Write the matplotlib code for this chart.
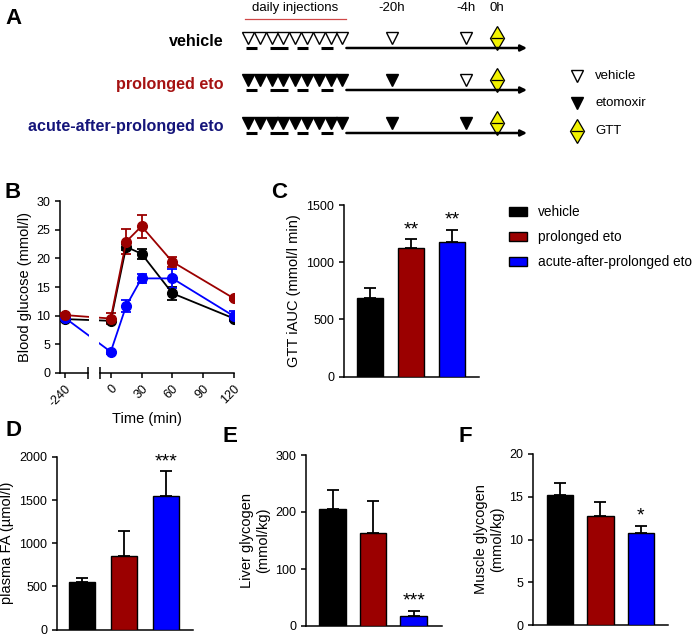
import matplotlib
matplotlib.use('Agg')
import matplotlib.pyplot as plt
import numpy as np
from matplotlib.patches import Patch

plt.rcParams['font.family'] = ['Liberation Sans', 'DejaVu Sans']
plt.rcParams['font.size'] = 9
plt.rcParams['axes.linewidth'] = 1.1
plt.rcParams['xtick.major.width'] = 1.1
plt.rcParams['ytick.major.width'] = 1.1
plt.rcParams['xtick.major.size'] = 3.5
plt.rcParams['ytick.major.size'] = 3.5

# ---- data ----
groups = ['vehicle', 'prolonged eto', 'acute-after-prolonged eto']
group_text_colors = ['black', '#a51212', '#15157a']
colors = ['black', '#9b0000', '#0000ff']

# injection schedule (panel A)
n_daily = 9
daily_inj = ['veh', 'eto', 'eto']
inj_20h = ['veh', 'eto', 'eto']
inj_4h = ['veh', 'veh', 'eto']
dash_slots = [0.3, 2.6, 4.6, 6.7]
dash_widths = [1.0, 1.5, 0.9, 1.0]

# panel B: glucose tolerance test
time_min = [-240, 0, 15, 30, 60, 120]
glu_veh = [9.4, 9.1, 22.0, 20.8, 13.9, 9.5]
glu_veh_err = [0.3, 0.3, 0.5, 0.9, 1.1, 0.5]
glu_pro = [10.1, 9.5, 22.9, 25.6, 19.4, 13.0]
glu_pro_err = [0.3, 0.9, 2.2, 2.0, 0.9, 0.3]
glu_acu = [9.6, 3.7, 11.7, 16.5, 16.5, 9.9]
glu_acu_err = [0.3, 0.3, 1.0, 0.8, 1.6, 0.9]
time_ticks = [-240, 0, 30, 60, 90, 120]

# panel C-F bars (mean, sem)
iauc = [690, 1120, 1175]
iauc_err = [82, 83, 110]
iauc_stars = ['', '**', '**']
fa = [545, 855, 1545]
fa_err = [48, 287, 290]
fa_stars = ['', '', '***']
liver = [206, 164, 18]
liver_err = [33, 55, 9]
liver_stars = ['', '', '***']
muscle = [15.2, 12.7, 10.8]
muscle_err = [1.45, 1.65, 0.8]
muscle_stars = ['', '', '*']

W, H = 697, 637
fig = plt.figure(figsize=(W / 100, H / 100), dpi=100)


def axes_px(left, top, right, bottom):
    return fig.add_axes([left / W, 1 - bottom / H, (right - left) / W, (bottom - top) / H])


def panel_letter(x, y, s):
    fig.text(x / W, 1 - y / H, s, fontsize=16, fontweight='bold', ha='center', va='center')


# ---- panel A: schematic ----
ax_a = fig.add_axes([0, 1 - 150 / H, 1, 150 / H])
ax_a.set_xlim(0, W)
ax_a.set_ylim(150, 0)
ax_a.axis('off')
slot_x0, slot_dx = 248, 11.8
pos_20h, pos_4h, pos_0h = 392, 466, 497
row_y = [38, 80, 123]
line_dy = 10


def tri(x, y, kind, ms=8.5):
    face = 'white' if kind == 'veh' else 'black'
    ax_a.plot(np.atleast_1d(x), [y] * len(np.atleast_1d(x)), 'v', ms=ms, mfc=face, mec='black',
              mew=1, ls='none', clip_on=False)


def gtt(x, y):
    ax_a.plot([x], [y], 'd', ms=12, mfc='#f2f200', mec='black', mew=0.9, clip_on=False)
    ax_a.plot([x], [y], '_', ms=8, mec='black', mew=0.9, clip_on=False)


ax_a.text(slot_x0 + slot_dx * 4, 8, 'daily injections', ha='center', va='center', fontsize=9.5)
ax_a.plot([slot_x0 - 3, slot_x0 + slot_dx * 8 + 4], [19, 19], color='#d04848', lw=0.9)
for s, xp in [('-20h', pos_20h), ('-4h', pos_4h), ('0h', pos_0h)]:
    ax_a.text(xp, 8, s, ha='center', va='center', fontsize=9.5)

for i, g in enumerate(groups):
    y = row_y[i]
    ax_a.text(224, y + 4, g, ha='right', va='center', fontsize=11.6, fontweight='bold',
              color=group_text_colors[i])
    xs = slot_x0 + slot_dx * np.arange(n_daily)
    tri(xs, y, daily_inj[i])
    for c, w in zip(dash_slots, dash_widths):
        ax_a.plot([slot_x0 + slot_dx * (c - w / 2), slot_x0 + slot_dx * (c + w / 2)],
                  [y + line_dy] * 2, color='black', lw=2.2, solid_capstyle='butt')
    ax_a.annotate('', xy=(527, y + line_dy), xytext=(slot_x0 + slot_dx * 8 + 4, y + line_dy),
                  arrowprops=dict(arrowstyle='-|>', color='black', lw=1.8, mutation_scale=9,
                                  shrinkA=0, shrinkB=0))
    tri(pos_20h, y, inj_20h[i])
    tri(pos_4h, y, inj_4h[i])
    gtt(pos_0h, y)

# legend of the schematic
tri(577, 76, 'veh')
tri(577, 103, 'eto')
gtt(577, 131)
for s, yy in [('vehicle', 76), ('etomoxir', 103), ('GTT', 131)]:
    ax_a.text(595, yy, s, ha='left', va='center', fontsize=9.5)

panel_letter(14, 18, 'A')

# ---- panel B: GTT curves with broken x axis ----
ax_b = axes_px(60, 201, 234, 373)
left_lim, break_l, break_r = -49.4, -22.3, -10.6
pre_pos = -44.5  # where the -240 min baseline sits on the broken axis


def tpos(t):
    return t if t >= 0 else pre_pos


xb = [tpos(t) for t in time_min]
for vals, errs, c in [(glu_veh, glu_veh_err, colors[0]), (glu_acu, glu_acu_err, colors[2]),
                      (glu_pro, glu_pro_err, colors[1])]:
    ax_b.errorbar(xb, vals, yerr=errs, fmt='-o', color=c, ms=7, lw=1.3, elinewidth=1.3,
                  capsize=3.5, capthick=1.3, zorder=3)
ax_b.axvspan(break_l + 0.8, break_r - 0.8, color='white', zorder=4, lw=0)
ax_b.set_xlim(left_lim, 120)
ax_b.set_ylim(0, 30)
ax_b.set_yticks(range(0, 31, 5))
ax_b.set_xticks([tpos(t) for t in time_ticks])
ax_b.set_xticklabels([str(t) for t in time_ticks], rotation=45, ha='right', va='top',
                     rotation_mode='anchor')
ax_b.set_xticks([break_l, break_r], minor=True)
ax_b.tick_params(axis='x', which='minor', direction='inout', length=8, width=1.1)
ax_b.spines['top'].set_visible(False)
ax_b.spines['right'].set_visible(False)
ax_b.spines['bottom'].set_bounds(break_r, 120)
ax_b.plot([left_lim, break_l], [0, 0], color='black', lw=1.1, clip_on=False,
          transform=ax_b.get_xaxis_transform(), zorder=5)
ax_b.set_ylabel('Blood glucose (mmol/l)', fontsize=10.5, labelpad=3)
ax_b.set_xlabel('Time (min)', fontsize=10.5, labelpad=2)
ax_b.tick_params(labelsize=9)
panel_letter(13, 192, 'B')


# ---- bar panels ----
def bar_panel(box, vals, errs, stars, ymax, ystep, ylabel, xl, width):
    ax = axes_px(*box)
    x = np.arange(len(vals))
    ax.errorbar(x, vals, yerr=[np.zeros(len(errs)), errs], fmt='none', ecolor='black',
                elinewidth=1.3, capsize=4.5, capthick=1.3, zorder=2)
    ax.bar(x, vals, width=width, color=colors, edgecolor='black', lw=1.0, zorder=3)
    for xi, v, e, s in zip(x, vals, errs, stars):
        if s:
            ax.text(xi, v + e + ymax * 0.005, s, ha='center', va='bottom', fontsize=14)
    ax.set_xlim(*xl)
    ax.set_ylim(0, ymax)
    ax.set_yticks(np.arange(0, ymax + ystep / 2, ystep))
    ax.set_xticks([])
    ax.spines['top'].set_visible(False)
    ax.spines['right'].set_visible(False)
    ax.set_ylabel(ylabel, fontsize=10.5, labelpad=4)
    ax.tick_params(labelsize=9)
    return ax


ax_c = bar_panel((344, 205, 479, 376.5), iauc, iauc_err, iauc_stars, 1500, 500,
                 'GTT iAUC (mmol/l min)', (-0.634, 2.66), 0.63)
panel_letter(279, 192, 'C')
fig.legend([Patch(facecolor=c, edgecolor='black') for c in colors], groups,
           loc='upper left', bbox_to_anchor=(505 / W, 1 - 201 / H), frameon=False,
           fontsize=9.8, handlelength=1.3, handleheight=0.65, labelspacing=0.8,
           handletextpad=0.8, borderaxespad=0, borderpad=0.3)

bar_panel((57, 457, 193, 629.5), fa, fa_err, fa_stars, 2000, 500,
          'plasma FA (\u00b5mol/l)', (-0.595, 2.64), 0.62)
panel_letter(14, 430, 'D')
bar_panel((306, 455, 442, 626), liver, liver_err, liver_stars, 300, 100,
          'Liver glycogen\n(mmol/kg)', (-0.654, 2.70), 0.66)
panel_letter(230, 437, 'E')
bar_panel((533, 454, 668, 625), muscle, muscle_err, muscle_stars, 20, 5,
          'Muscle glycogen\n(mmol/kg)', (-0.667, 2.67), 0.65)
panel_letter(465, 437, 'F')

fig.savefig('out.png', dpi=100)
